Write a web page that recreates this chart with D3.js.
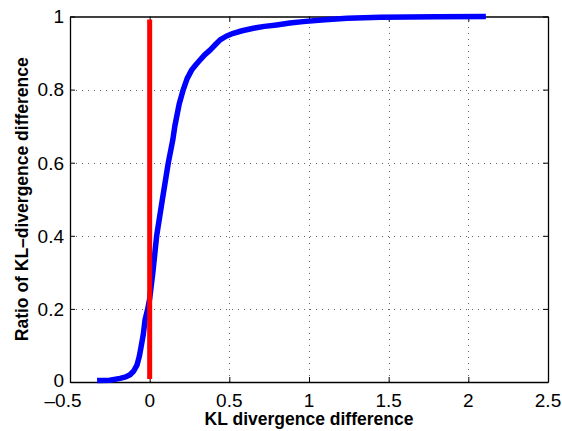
<!DOCTYPE html>
<html>
<head>
<meta charset="utf-8">
<script src="https://cdn.jsdelivr.net/npm/d3@7"></script>
<style>
  html, body { margin: 0; padding: 0; background: #fff; }
  svg { display: block; font-family: "Liberation Sans", Arial, Helvetica, sans-serif; }
</style>
</head>
<body>
<svg id="chart" width="562" height="431"></svg>
<script>
// ---- data ----
const cdfX = [-0.33, -0.25, -0.186, -0.15, -0.123, -0.1, -0.079, -0.065, -0.054, -0.04, -0.029, -0.012, 0.0, 0.02, 0.044, 0.08, 0.117, 0.145, 0.158, 0.185, 0.211, 0.235, 0.264, 0.29, 0.316, 0.345, 0.379, 0.41, 0.442, 0.48, 0.525, 0.58, 0.651, 0.72, 0.797, 0.88, 0.963, 1.1, 1.24, 1.45, 1.8, 2.11];
const cdfY = [0.004, 0.005, 0.01, 0.014, 0.02, 0.03, 0.047, 0.07, 0.096, 0.13, 0.17, 0.2, 0.228, 0.3, 0.4, 0.5, 0.6, 0.662, 0.7, 0.76, 0.8, 0.83, 0.854, 0.868, 0.881, 0.895, 0.908, 0.922, 0.936, 0.946, 0.954, 0.961, 0.968, 0.973, 0.977, 0.982, 0.986, 0.991, 0.995, 0.998, 0.999, 1.0];
const refX = [0, 0];
const refY = [0.008, 0.992];
const xTicks = [-0.5, 0, 0.5, 1, 1.5, 2, 2.5];
const xTickLabels = ["\u20130.5", "0", "0.5", "1", "1.5", "2", "2.5"];
const yTicks = [0, 0.2, 0.4, 0.6, 0.8, 1];
const yTickLabels = ["0", "0.2", "0.4", "0.6", "0.8", "1"];
const xLabel = "KL divergence difference";
const yLabel = "Ratio of KL\u2013divergence difference";

// ---- layout ----
const L = 70, R = 548, T = 16.5, B = 382;
const svg = d3.select("#chart");
const x = d3.scaleLinear().domain([-0.5, 2.5]).range([L, R]);
const y = d3.scaleLinear().domain([0, 1]).range([B, T]);

// grid
const grid = svg.append("g").attr("stroke", "#666").attr("stroke-width", 1)
  .attr("stroke-dasharray", "1,5");
grid.selectAll("line.gx").data(xTicks.slice(1, -1)).join("line")
  .attr("x1", d => Math.round(x(d)) + 0.5).attr("x2", d => Math.round(x(d)) + 0.5)
  .attr("y1", B).attr("y2", T);
grid.selectAll("line.gy").data(yTicks.slice(1, -1)).join("line")
  .attr("y1", d => Math.round(y(d)) + 0.5).attr("y2", d => Math.round(y(d)) + 0.5)
  .attr("x1", L).attr("x2", R);

// axes with inward ticks on all four sides (MATLAB box)
const tk = 5;
const axB = svg.append("g").attr("transform", `translate(0,${B})`)
  .call(d3.axisBottom(x).tickValues(xTicks).tickSizeInner(-tk).tickSizeOuter(0).tickFormat(""));
const axT = svg.append("g").attr("transform", `translate(0,${T})`)
  .call(d3.axisTop(x).tickValues(xTicks).tickSizeInner(-tk).tickSizeOuter(0).tickFormat(""));
const axL = svg.append("g").attr("transform", `translate(${L},0)`)
  .call(d3.axisLeft(y).tickValues(yTicks).tickSizeInner(-tk).tickSizeOuter(0).tickFormat(""));
const axR = svg.append("g").attr("transform", `translate(${R},0)`)
  .call(d3.axisRight(y).tickValues(yTicks).tickSizeInner(-tk).tickSizeOuter(0).tickFormat(""));
[axB, axT, axL, axR].forEach(a => {
  a.selectAll("path.domain").attr("stroke", "#000").attr("stroke-width", 1.3);
  a.selectAll(".tick line").attr("stroke", "#000").attr("stroke-width", 1);
});

// tick labels
svg.append("g").selectAll("text").data(xTicks).join("text")
  .attr("x", (d) => x(d) + (d < 0 ? -7 : 0)).attr("y", 407)
  .attr("text-anchor", "middle").attr("font-size", 19).attr("fill", "#000")
  .text((d, i) => xTickLabels[i]);
svg.append("g").selectAll("text").data(yTicks).join("text")
  .attr("x", 64).attr("y", d => y(d) + (d === 0 ? 5 : 6.8))
  .attr("text-anchor", "end").attr("font-size", 19).attr("fill", "#000")
  .text((d, i) => yTickLabels[i]);

// axis labels
svg.append("text").attr("x", (L + R) / 2).attr("y", 425)
  .attr("text-anchor", "middle").attr("font-size", 17.5).attr("font-weight", "bold")
  .text(xLabel);
svg.append("text").attr("transform", `translate(28,${(T + B) / 2}) rotate(-90)`)
  .attr("text-anchor", "middle").attr("font-size", 17.5).attr("font-weight", "bold")
  .text(yLabel);

// curves
const line = d3.line().x(d => x(d[0])).y(d => y(d[1]));
svg.append("path").datum(cdfX.map((v, i) => [v, cdfY[i]]))
  .attr("d", line).attr("fill", "none").attr("stroke", "#0000ff")
  .attr("stroke-width", 5.5).attr("stroke-linejoin", "round");
svg.append("path").datum(refX.map((v, i) => [v, refY[i]]))
  .attr("d", line).attr("fill", "none").attr("stroke", "#ff0000")
  .attr("stroke-width", 5);
</script>
</body>
</html>
